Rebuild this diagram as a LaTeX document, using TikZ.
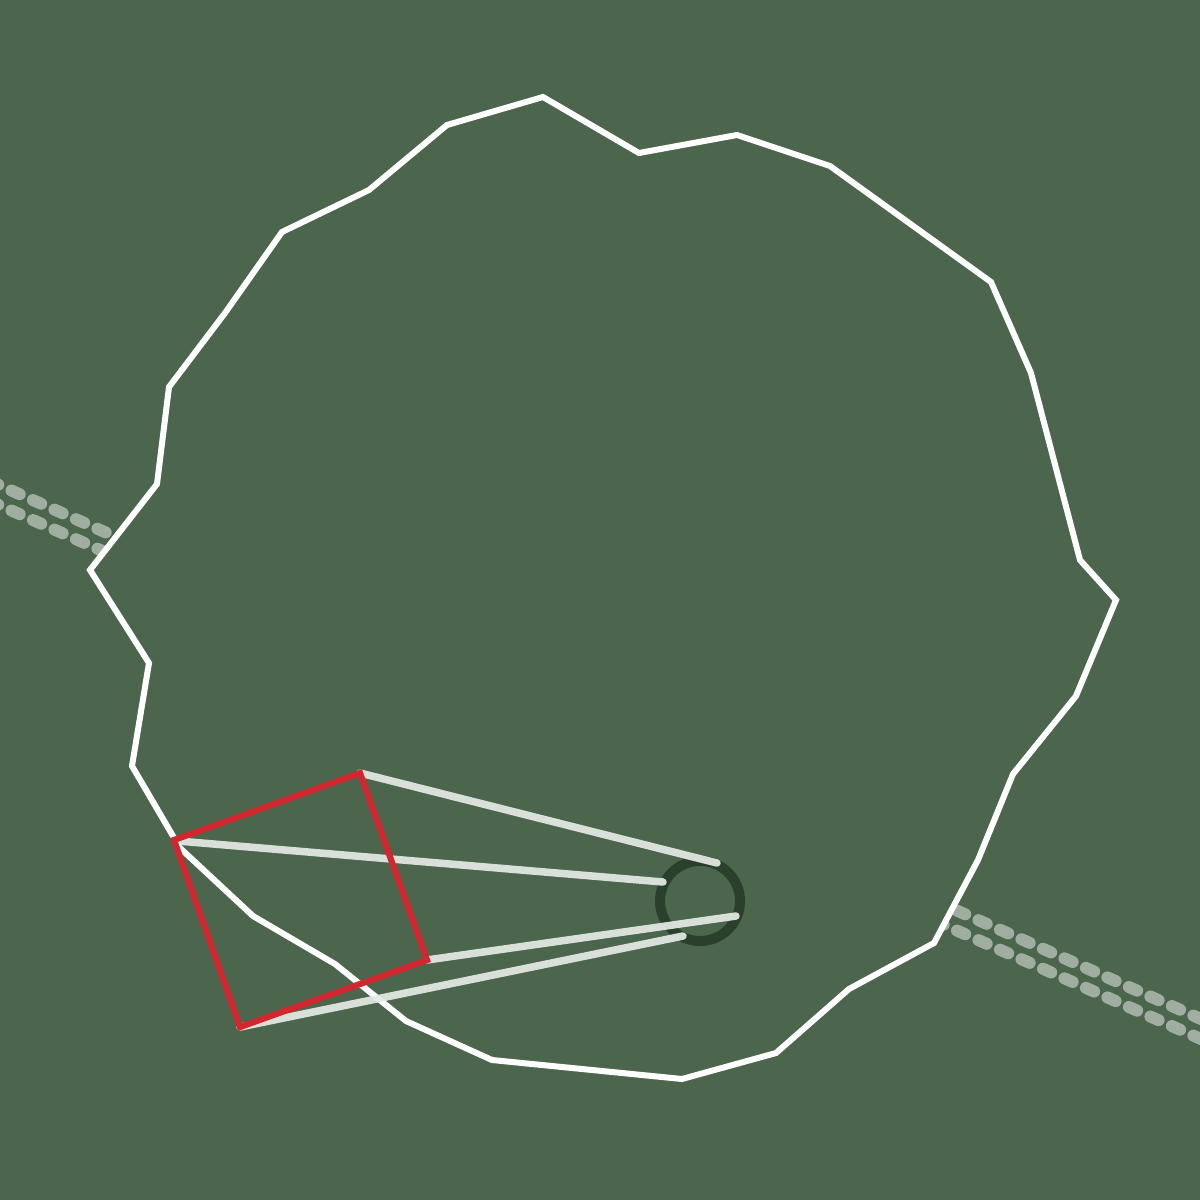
\documentclass[tikz,border=0pt]{standalone}
\begin{document}
\begin{tikzpicture}[x=0.01cm,y=-0.01cm,
  outline/.style={draw=white,line width=0.06cm,line join=miter,fill=bgc},
  track/.style={draw=white,draw opacity=0.47,line width=0.12cm,line cap=round,dash pattern=on 0.09cm off 0.145cm},
  ray/.style={draw=lightray,line width=0.075cm,line cap=round,draw opacity=0.92},
  frame/.style={draw=redc,line width=0.062cm,line join=miter},
  ring/.style={draw=darkc,line width=0.1cm}]
\definecolor{bgc}{HTML}{4B664D}
\definecolor{lightray}{HTML}{E6EBE6}
\definecolor{redc}{HTML}{D0282E}
\definecolor{darkc}{HTML}{2A3F2C}
\fill[bgc] (0,0) rectangle (1200,1200);
\useasboundingbox (0,0) rectangle (1200,1200);
\begin{scope}
\clip (0,0) rectangle (1200,1200);
\draw[track] (-10,481) -- (1210,1023);
\draw[track] (-10,501) -- (1210,1043);
\end{scope}
\draw[outline] (543,97) -- (639,153) -- (737,135) -- (830,166) -- (991,282) -- (1031,373) -- (1080,560) -- (1116,600) -- (1076,696) -- (1013,774) -- (978,860) -- (934,943) -- (849,989) -- (776,1053) -- (682,1079) -- (492,1060) -- (406,1021) -- (335,964) -- (253,916) -- (180,848) -- (132,766) -- (149,663) -- (90,570) -- (157,484) -- (169,387) -- (225,313) -- (282,232) -- (369,190) -- (447,125) -- cycle;
\node[circle,ring,minimum size=0.8cm,inner sep=0pt] (hub) at (700,901) {};
\coordinate (a) at (360,773);
\coordinate (b) at (178,841);
\coordinate (c) at (427,960);
\coordinate (d) at (240,1027);
\coordinate (a2) at (717,863);
\coordinate (b2) at (663,882);
\coordinate (c2) at (736,916);
\coordinate (d2) at (683,936);
\draw[ray] (a) -- (a2);
\draw[ray] (b) -- (b2);
\draw[ray] (c) -- (c2);
\draw[ray] (d) -- (d2);
\draw[frame] (174,840) -- (a) -- (c) -- (d) -- cycle;
\end{tikzpicture}
\end{document}
